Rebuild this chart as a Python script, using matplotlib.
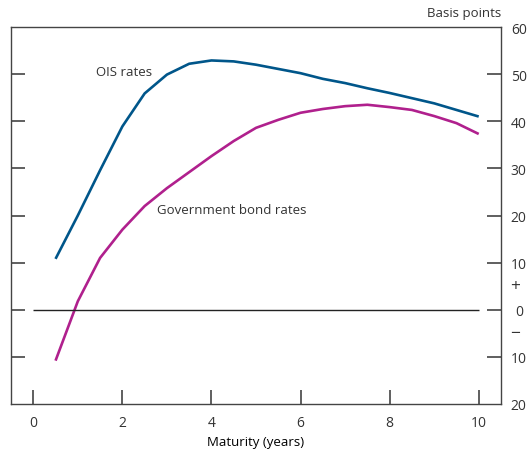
import matplotlib
matplotlib.use("Agg")
import matplotlib.pyplot as plt

# maturity in years, spreads in basis points
maturity = [0.5, 1.0, 1.5, 2.0, 2.5, 3.0, 3.5, 4.0, 4.5, 5.0,
            5.5, 6.0, 6.5, 7.0, 7.5, 8.0, 8.5, 9.0, 9.5, 10.0]
ois_rates = [10.8, 20.0, 29.6, 38.9, 45.9, 49.9, 52.2, 52.9, 52.7, 52.0,
             51.1, 50.2, 49.0, 48.1, 47.0, 46.0, 44.9, 43.8, 42.4, 41.0]
gov_rates = [-10.8, 1.8, 11.0, 17.0, 22.0, 25.8, 29.2, 32.6, 35.8, 38.6,
             40.3, 41.8, 42.6, 43.2, 43.5, 43.0, 42.4, 41.1, 39.6, 37.3]

x_ticks = [0, 2, 4, 6, 8, 10]
y_ticks = [-20, -10, 0, 10, 20, 30, 40, 50, 60]
y_labels = ["20", "10", "0", "10", "20", "30", "40", "50", "60"]

plt.rcParams["font.family"] = ["Open Sans", "DejaVu Sans"]
plt.rcParams["font.size"] = 9.5
plt.rcParams["text.color"] = "#333333"

fig = plt.figure(figsize=(5.28, 4.52), dpi=100)
ax = fig.add_axes([11 / 528, 1 - 405 / 452, 490 / 528, 377 / 452])

ax.plot(maturity, ois_rates, color="#00568A", linewidth=1.9, solid_capstyle="butt")
ax.plot(maturity, gov_rates, color="#B0208D", linewidth=1.9, solid_capstyle="butt")
ax.hlines(0, 0, 10, color="#222222", linewidth=1.0)

ax.set_xlim(-0.5, 10.5)
ax.set_ylim(-20, 60)

ax.set_xticks(x_ticks)
ax.set_yticks(y_ticks)
ax.set_yticklabels(y_labels)

for side in ["top", "bottom", "left", "right"]:
    ax.spines[side].set_color("#444444")
    ax.spines[side].set_linewidth(1.0)

ax.tick_params(axis="x", direction="in", length=10, width=1.2, color="#444444",
               pad=8, labelsize=10, labelcolor="#333333")
ax.tick_params(axis="y", direction="in", length=10, width=1.2, color="#444444",
               left=True, right=True, labelleft=False, labelright=True,
               pad=12.8, labelsize=10, labelcolor="#333333")
for lab in ax.get_yticklabels():
    lab.set_horizontalalignment("center")

# no tick marks at the corners
for tk in (ax.yaxis.get_major_ticks()[0], ax.yaxis.get_major_ticks()[-1]):
    tk.tick1line.set_visible(False)
    tk.tick2line.set_visible(False)

ax.set_xlabel("Maturity (years)")
ax.xaxis.set_label_coords(0.5, -0.083)

ax.text(1.028, 5, "+", transform=ax.get_yaxis_transform(), ha="center", va="center",
        fontsize=12.5)
ax.text(1.028, -5, "\u2212", transform=ax.get_yaxis_transform(), ha="center", va="center",
        fontsize=12.5)
ax.text(1.0, 1.02, "Basis points", transform=ax.transAxes, ha="right", va="bottom")

ax.text(1.4, 50.5, "OIS rates", ha="left", va="center")
ax.text(2.78, 21.2, "Government bond rates", ha="left", va="center")

fig.savefig("out.png", dpi=100)
